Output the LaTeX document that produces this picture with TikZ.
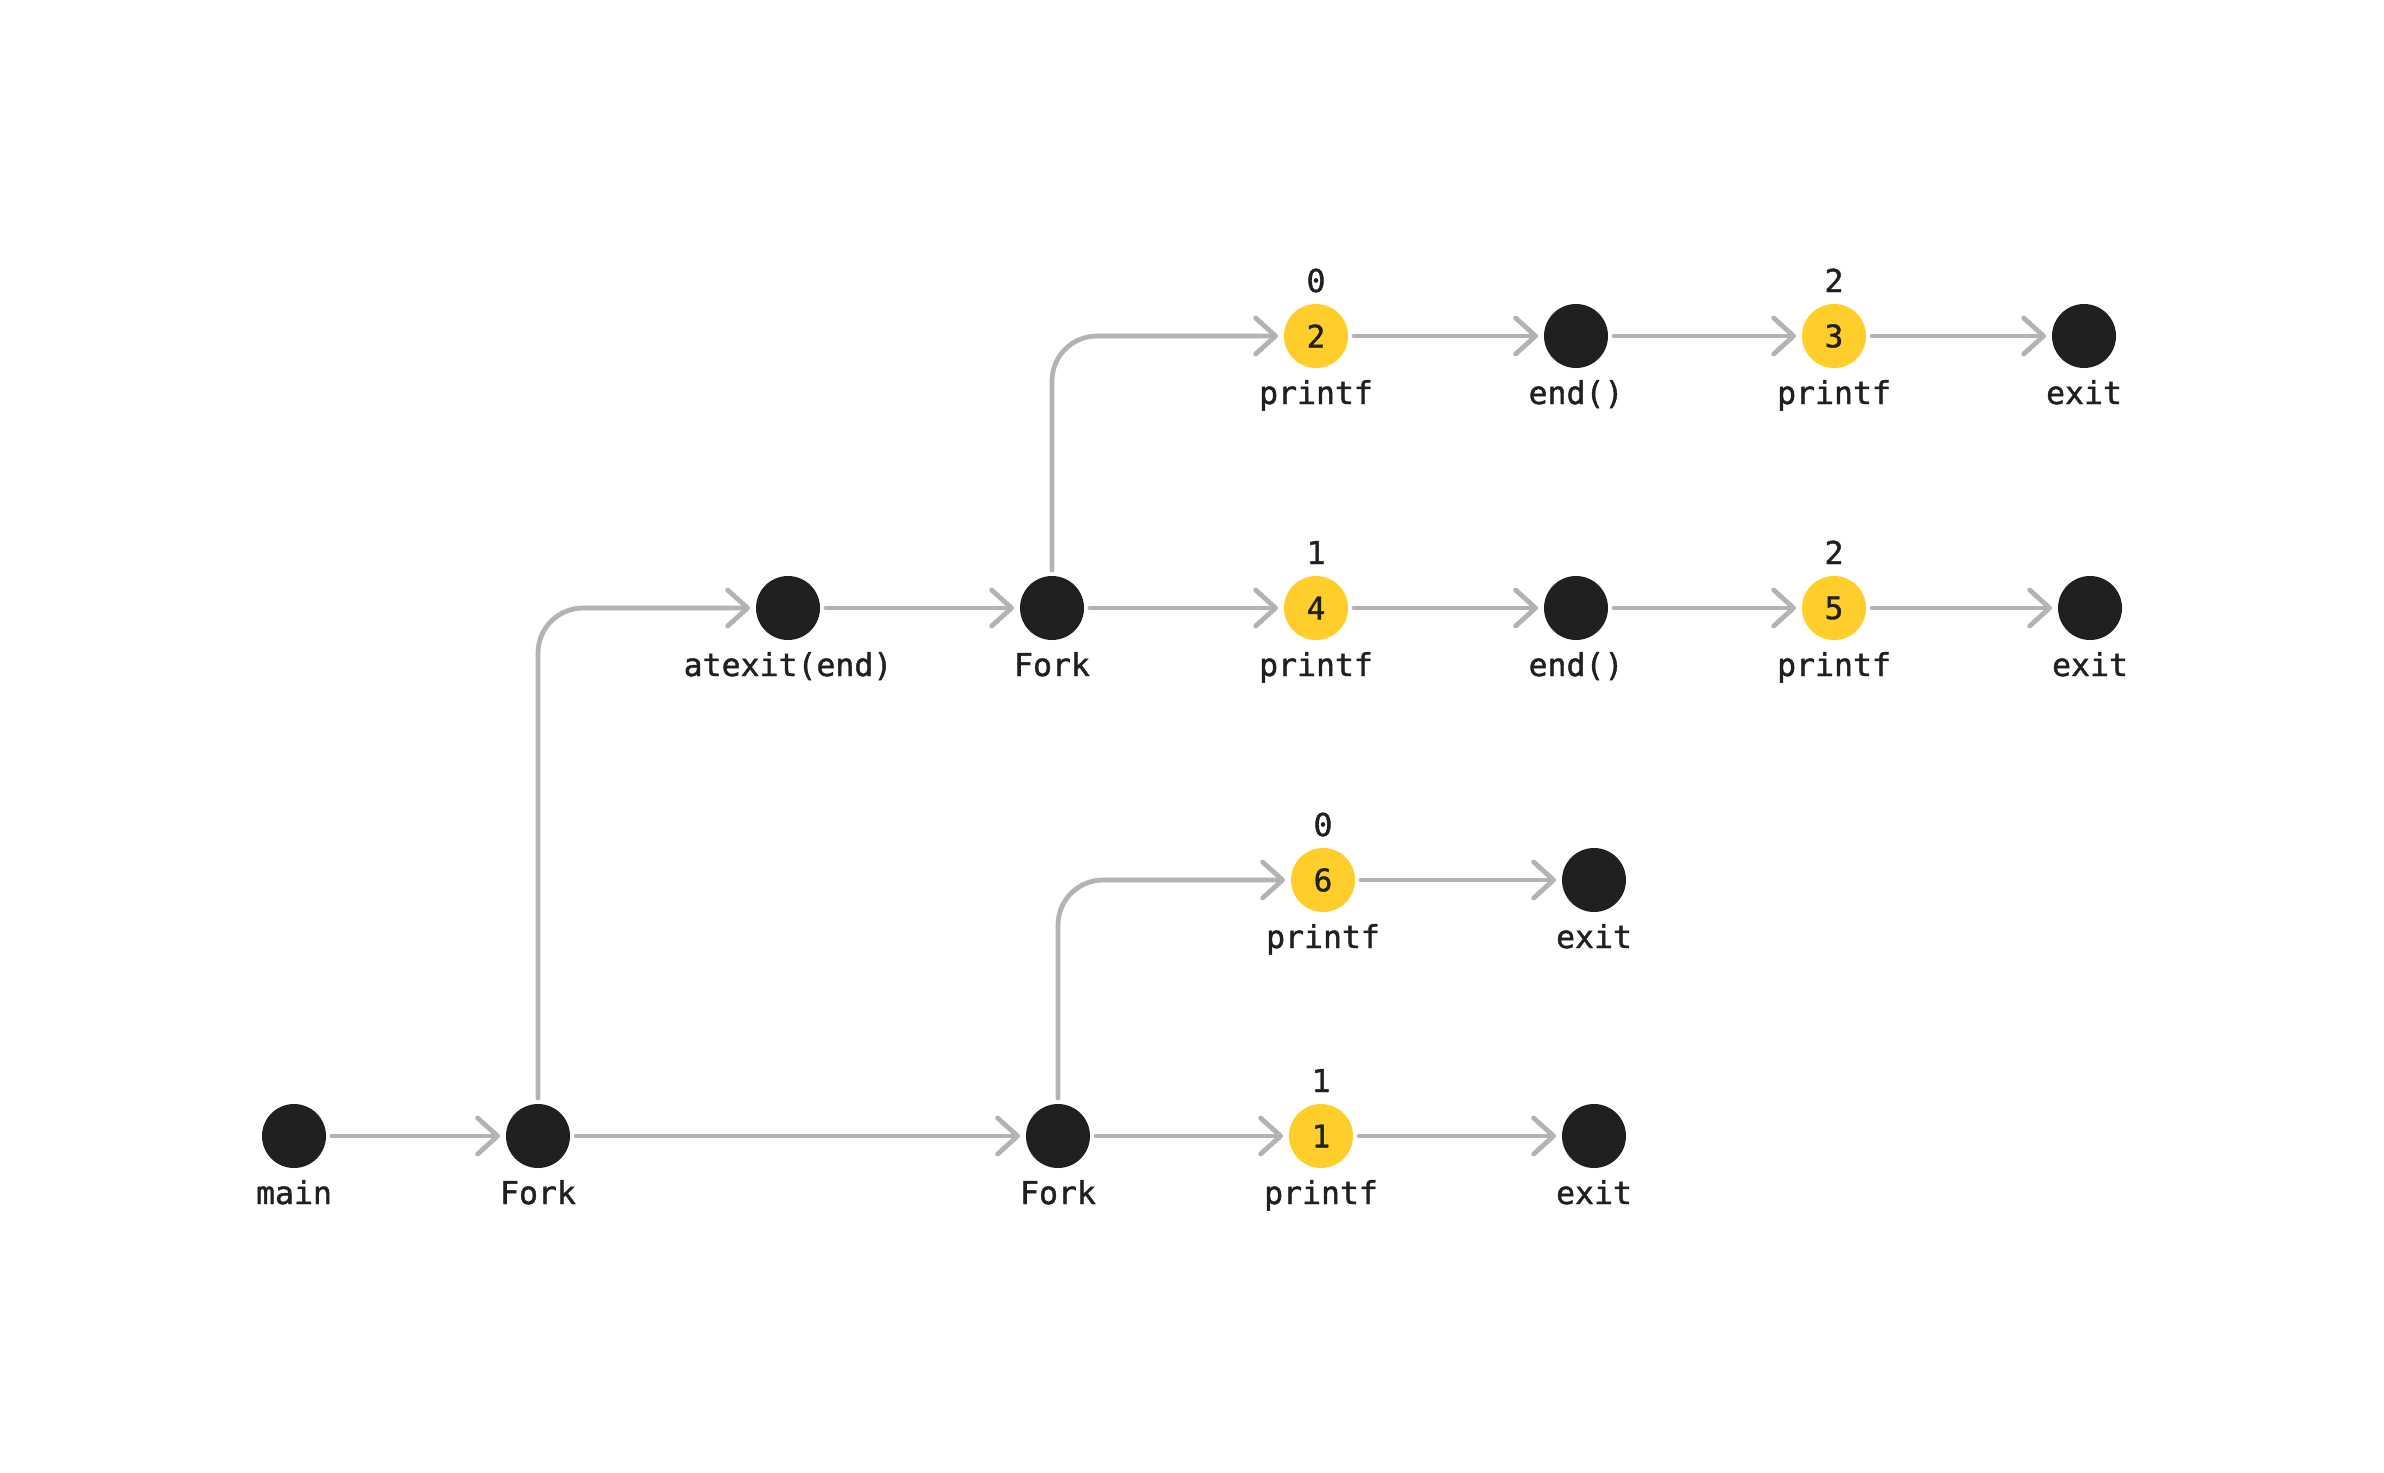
\documentclass[tikz,border=0pt]{standalone}
\usepackage{fontspec}
\newfontfamily\codefont[FakeBold=1.3]{DejaVu Sans Mono}
\usetikzlibrary{arrows.meta,calc}
\definecolor{ink}{HTML}{202020}
\definecolor{gold}{HTML}{FFCE2B}
\definecolor{wire}{HTML}{B3B3B3}
\begin{document}
\begin{tikzpicture}[x=1pt,y=-1pt,
  dot/.style={circle,fill=ink,minimum size=64pt,inner sep=0pt,outer sep=6pt},
  ydot/.style={dot,fill=gold,text=ink,font=\codefont\fontsize{31}{37}\selectfont},
  lbl/.style={anchor=base,text=ink,inner sep=0pt,font=\codefont\fontsize{31.5}{38}\selectfont},
  conn/.style={draw=wire,line width=4.8pt,line cap=round,rounded corners=45pt,
    -{Straight Barb[length=20pt,width=36pt,round]}}]
\useasboundingbox[fill=white] (0,0) rectangle (2384,1472);
% nodes
\node[dot]  (main) at (294,1136) {};
\node[dot]  (f1)   at (538,1136) {};
\node[dot]  (at)   at (788,608) {};
\node[dot]  (f2)   at (1052,608) {};
\node[ydot] (p4)   at (1316,608) {4};
\node[dot]  (e2)   at (1576,608) {};
\node[ydot] (p5)   at (1834,608) {5};
\node[dot]  (x2)   at (2090,608) {};
\node[ydot] (p2)   at (1316,336) {2};
\node[dot]  (e1)   at (1576,336) {};
\node[ydot] (p3)   at (1834,336) {3};
\node[dot]  (x1)   at (2084,336) {};
\node[dot]  (f3)   at (1058,1136) {};
\node[ydot] (p1)   at (1321,1136) {1};
\node[dot]  (x4)   at (1594,1136) {};
\node[ydot] (p6)   at (1323,880) {6};
\node[dot]  (x3)   at (1594,880) {};
% labels below
\node[lbl] (lmain) at ($(main)+(0,68)$) {main};
\node[lbl] (lf1)   at ($(f1)+(0,68)$) {Fork};
\node[lbl] (lat)   at ($(at)+(0,68)$) {atexit(end)};
\node[lbl] (lf2)   at ($(f2)+(0,68)$) {Fork};
\node[lbl] (lp4)   at ($(p4)+(0,68)$) {printf};
\node[lbl] (le2)   at ($(e2)+(0,68)$) {end()};
\node[lbl] (lp5)   at ($(p5)+(0,68)$) {printf};
\node[lbl] (lx2)   at ($(x2)+(0,68)$) {exit};
\node[lbl] (lp2)   at ($(p2)+(0,68)$) {printf};
\node[lbl] (le1)   at ($(e1)+(0,68)$) {end()};
\node[lbl] (lp3)   at ($(p3)+(0,68)$) {printf};
\node[lbl] (lx1)   at ($(x1)+(0,68)$) {exit};
\node[lbl] (lf3)   at ($(f3)+(0,68)$) {Fork};
\node[lbl] (lp1)   at ($(p1)+(0,68)$) {printf};
\node[lbl] (lx4)   at ($(x4)+(0,68)$) {exit};
\node[lbl] (lp6)   at ($(p6)+(0,68)$) {printf};
\node[lbl] (lx3)   at ($(x3)+(0,68)$) {exit};
% labels above
\node[lbl] (tp2) at ($(p2)+(0,-44)$) {0};
\node[lbl] (tp3) at ($(p3)+(0,-44)$) {2};
\node[lbl] (tp4) at ($(p4)+(0,-44)$) {1};
\node[lbl] (tp5) at ($(p5)+(0,-44)$) {2};
\node[lbl] (tp6) at ($(p6)+(0,-44)$) {0};
\node[lbl] (tp1) at ($(p1)+(0,-44)$) {1};
% connectors
\draw[conn] (main) -- (f1);
\draw[conn] (f1.north) |- (at.west);
\draw[conn] (f1) -- (f3);
\draw[conn] (at) -- (f2);
\draw[conn] (f2.north) |- (p2.west);
\draw[conn] (f2) -- (p4);
\draw[conn] (p4) -- (e2);
\draw[conn] (e2) -- (p5);
\draw[conn] (p5) -- (x2);
\draw[conn] (p2) -- (e1);
\draw[conn] (e1) -- (p3);
\draw[conn] (p3) -- (x1);
\draw[conn] (f3.north) |- (p6.west);
\draw[conn] (f3) -- (p1);
\draw[conn] (p1) -- (x4);
\draw[conn] (p6) -- (x3);
\end{tikzpicture}
\end{document}
